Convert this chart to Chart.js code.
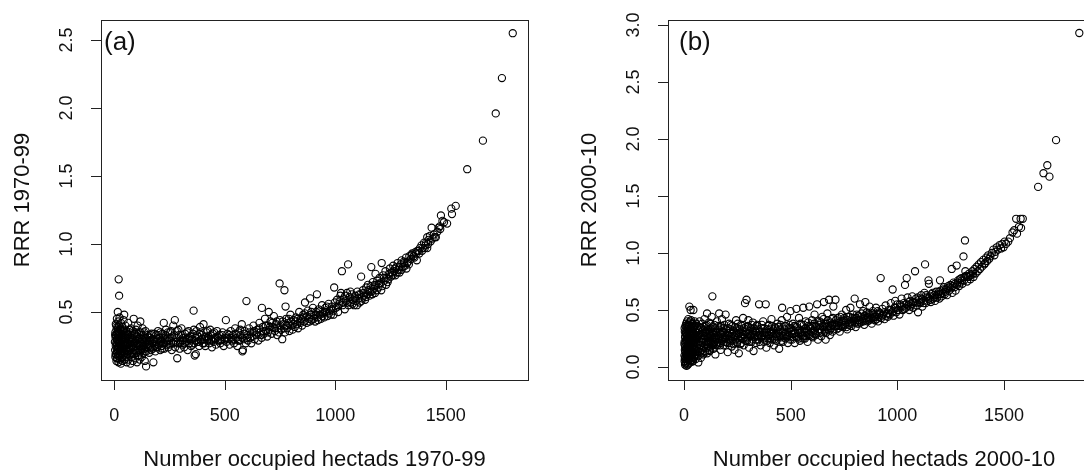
<!DOCTYPE html>
<html>
<head>
<meta charset="utf-8">
<script src="https://cdn.jsdelivr.net/npm/chart.js@4.4.1/dist/chart.umd.min.js"></script>
<style>
    html, body { margin: 0; padding: 0; background: #fff; overflow: hidden; width: 1084px; height: 470px; }
    canvas { position: absolute; top: 0; }
    #chartA { left: 0; }
    #chartB { left: 540px; }
</style>
</head>
<body>
<canvas id="chartA" width="540" height="470"></canvas>
<canvas id="chartB" width="570" height="470"></canvas>
<script>
// panel (a): number of occupied hectads 1970-99 vs RRR 1970-99
var pointsA = [
    [3,0.28],[4,0.22],[5,0.35],[5,0.17],[6,0.31],[7,0.25],[7,0.41],[8,0.19],[8,0.33],[9,0.27],
    [10,0.14],[10,0.37],[11,0.23],[11,0.30],[12,0.45],[12,0.20],[13,0.34],[13,0.26],[14,0.16],[14,0.39],
    [15,0.29],[15,0.22],[16,0.50],[16,0.32],[17,0.18],[17,0.36],[18,0.25],[18,0.43],[19,0.13],[19,0.30],
    [20,0.74],[20,0.21],[21,0.34],[21,0.27],[22,0.62],[22,0.40],[23,0.17],[23,0.31],[24,0.24],[24,0.46],
    [25,0.19],[25,0.35],[26,0.28],[27,0.15],[27,0.38],[28,0.22],[28,0.32],[29,0.26],[30,0.42],[30,0.12],
    [31,0.30],[32,0.20],[32,0.36],[33,0.27],[34,0.16],[34,0.33],[35,0.24],[36,0.39],[37,0.29],[37,0.14],
    [38,0.21],[39,0.35],[40,0.26],[41,0.18],[42,0.31],[42,0.44],[43,0.23],[44,0.37],[45,0.48],[45,0.28],
    [46,0.15],[47,0.33],[48,0.20],[49,0.26],[50,0.40],
    [52,0.30],[53,0.17],[54,0.24],[55,0.36],[56,0.13],[57,0.28],[58,0.21],[60,0.33],[61,0.19],[62,0.26],
    [63,0.42],[64,0.15],[65,0.30],[67,0.23],[68,0.35],[69,0.18],[70,0.27],[72,0.31],[73,0.12],[74,0.22],
    [75,0.38],[77,0.25],[78,0.17],[79,0.33],[80,0.28],[82,0.20],[83,0.36],[84,0.14],[86,0.24],[87,0.30],
    [88,0.45],[89,0.19],[91,0.27],[92,0.34],[93,0.22],[95,0.16],[96,0.29],[98,0.37],[99,0.25],[100,0.20],
    [102,0.32],[103,0.13],[105,0.26],[106,0.40],[108,0.22],[109,0.30],[111,0.18],[112,0.35],[114,0.25],[115,0.15],
    [117,0.28],[118,0.43],[120,0.21],[122,0.33],[123,0.26],[125,0.17],[127,0.30],[128,0.38],[130,0.24],[132,0.20],
    [133,0.29],[135,0.35],[137,0.23],[138,0.14],[140,0.27],[142,0.31],[144,0.10],[145,0.21],[147,0.26],[149,0.33],
    [152,0.24],[155,0.29],[158,0.20],[160,0.31],[163,0.26],[166,0.22],[168,0.34],[171,0.27],[174,0.23],[177,0.13],
    [180,0.30],[183,0.25],[186,0.21],[189,0.33],[192,0.28],[195,0.24],[198,0.36],[201,0.26],[205,0.31],[208,0.22],
    [211,0.29],[215,0.25],[218,0.34],[222,0.27],[224,0.42],[226,0.23],[230,0.30],[234,0.37],[237,0.26],[241,0.31],
    [245,0.24],[248,0.29],[252,0.35],[256,0.27],[260,0.22],[263,0.32],[267,0.40],[270,0.28],[274,0.44],[276,0.24],
    [280,0.31],[283,0.36],[285,0.16],[288,0.27],[292,0.33],[296,0.23],[300,0.29],[304,0.38],[308,0.26],[312,0.31],
    [316,0.24],[320,0.34],[324,0.28],[328,0.30],[332,0.22],[336,0.36],[340,0.27],[344,0.32],[348,0.25],
    [352,0.30],[356,0.34],[359,0.51],[362,0.27],[364,0.18],[366,0.31],[369,0.19],[372,0.36],[376,0.28],[380,0.32],
    [384,0.25],[388,0.39],[392,0.29],[396,0.33],[400,0.27],[404,0.41],[408,0.30],[412,0.25],[416,0.35],[420,0.29],
    [425,0.32],[430,0.27],[434,0.37],[438,0.30],[442,0.24],[446,0.34],[450,0.28],[455,0.31],[460,0.26],[465,0.36],
    [470,0.29],[475,0.33],[480,0.27],[485,0.30],[490,0.35],[495,0.25],[500,0.31],[505,0.44],[508,0.28],[512,0.34],
    [517,0.30],[522,0.26],[527,0.36],[532,0.29],[537,0.33],[542,0.27],[547,0.38],[552,0.31],[557,0.25],[562,0.35],
    [567,0.29],[572,0.33],[577,0.41],[580,0.21],[582,0.22],[586,0.30],[590,0.36],[595,0.27],[598,0.58],[601,0.33],
    [605,0.29],[610,0.38],[615,0.31],[620,0.27],[625,0.35],[630,0.40],[635,0.30],
    [642,0.33],[647,0.37],[652,0.29],[657,0.42],[662,0.35],[667,0.31],[668,0.53],[672,0.39],[677,0.34],[682,0.45],
    [687,0.36],[692,0.32],[697,0.40],[699,0.50],[702,0.37],[707,0.43],[712,0.34],[717,0.39],[722,0.47],[727,0.36],
    [732,0.41],[737,0.33],[742,0.38],[748,0.71],[750,0.44],[755,0.37],[760,0.30],[765,0.41],[770,0.66],[772,0.35],
    [775,0.54],[778,0.45],[782,0.38],[787,0.42],[792,0.36],[797,0.48],[802,0.40],[807,0.37],[812,0.44],[817,0.39],
    [822,0.46],[827,0.41],[832,0.38],[837,0.50],[840,0.43],
    [845,0.45],[850,0.40],[855,0.48],[860,0.43],[863,0.57],[866,0.46],[871,0.42],[876,0.51],[881,0.45],[886,0.60],
    [889,0.48],[894,0.44],[899,0.53],[904,0.47],[909,0.43],[914,0.50],[917,0.63],[920,0.46],[925,0.52],[930,0.48],
    [935,0.45],[940,0.55],[945,0.49],[950,0.46],[955,0.53],[960,0.50],[965,0.47],[970,0.56],[975,0.51],[980,0.48],
    [985,0.54],[990,0.51],[995,0.68],[998,0.57],
    [1003,0.53],[1008,0.59],[1013,0.50],[1018,0.56],[1023,0.62],[1026,0.64],[1030,0.80],[1033,0.55],[1038,0.60],[1043,0.52],
    [1048,0.58],[1053,0.64],[1058,0.85],[1060,0.55],[1065,0.61],[1070,0.57],[1075,0.63],[1080,0.59],[1085,0.55],[1090,0.62],
    [1095,0.58],[1100,0.65],[1105,0.60],[1110,0.57],[1115,0.63],[1117,0.76],[1120,0.60],[1125,0.66],[1130,0.62],[1135,0.59],
    [1140,0.68],[1145,0.63],[1150,0.66],
    [1155,0.62],[1160,0.69],[1163,0.83],[1165,0.65],[1170,0.72],[1175,0.67],[1180,0.64],[1182,0.78],[1185,0.70],[1190,0.73],
    [1195,0.68],[1200,0.75],[1205,0.71],[1210,0.86],[1212,0.69],[1217,0.77],[1222,0.73],[1227,0.80],[1232,0.75],[1237,0.72],
    [1242,0.78],[1247,0.82],[1252,0.76],[1257,0.79],[1262,0.84],[1267,0.80],[1272,0.77],[1277,0.83],[1282,0.86],[1287,0.81],
    [1291,0.79],[1296,0.85],[1300,0.88],[1305,0.83],[1310,0.87],[1315,0.84],[1320,0.90],[1325,0.86],[1330,0.87],[1335,0.91],
    [1342,0.89],[1348,0.93],[1355,0.91],[1362,0.94],[1369,0.88],[1372,0.95],[1377,0.95],[1383,0.97],[1390,0.99],[1396,0.97],
    [1402,1.01],[1408,0.99],[1411,1.01],[1416,1.05],[1416,0.97],[1422,1.03],[1428,1.06],[1436,1.12],[1440,1.04],[1446,1.07],
    [1450,1.05],[1455,1.05],[1462,1.09],[1468,1.12],[1473,1.13],[1475,1.11],[1478,1.21],[1485,1.17],[1492,1.16],[1506,1.15],
    [1525,1.26],[1528,1.22],[1545,1.28],
    [1597,1.55],[1668,1.76],[1726,1.96],[1754,2.22],[1803,2.55]
];

var crowdA = [
    [4,0.33],[6,0.19],[9,0.40],[11,0.16],[13,0.29],[16,0.24],[18,0.35],[20,0.30],[23,0.27],[26,0.21],
    [29,0.37],[31,0.25],[33,0.19],[36,0.30],[39,0.24],[41,0.36],[44,0.21],[47,0.27],[51,0.23],[54,0.32],
    [57,0.19],[59,0.27],[62,0.34],[66,0.21],[69,0.29],[71,0.37],[74,0.28],[76,0.19],[81,0.31],[85,0.26],
    [90,0.34],[94,0.28],[97,0.21],[101,0.27],[104,0.34],[107,0.18],[110,0.26],[113,0.31],[116,0.22],[119,0.35],
    [121,0.27],[124,0.30],[126,0.23],[129,0.33],[131,0.27],[134,0.25],[136,0.31],[139,0.21],[141,0.36],[146,0.29],
    [154,0.32],[157,0.26],[162,0.29],[165,0.33],[169,0.24],[173,0.30],[178,0.27],[182,0.34],[187,0.28],[191,0.24],
    [196,0.30],[200,0.33],[204,0.27],[209,0.35],[213,0.28],[217,0.23],[220,0.31],[228,0.27],[232,0.33],[239,0.29],
    [243,0.35],[250,0.26],[254,0.31],[258,0.36],[265,0.27],[272,0.33],[278,0.28],[286,0.31],[290,0.37],[298,0.27],
    [302,0.33],[310,0.29],[318,0.27],[322,0.31],[330,0.35],[338,0.31],[346,0.29],[354,0.26],[360,0.37],[368,0.29],
    [374,0.33],[382,0.28],[390,0.35],[398,0.30],[406,0.27],[414,0.32],[422,0.36],[428,0.30],[436,0.33],[444,0.29],
    [452,0.35],[458,0.30],[468,0.32],[478,0.29],[488,0.33],[498,0.29],[510,0.31],[520,0.33],[530,0.31],[540,0.30],
    [550,0.34],[560,0.29],[570,0.37],[578,0.31],[588,0.34],[600,0.31],[612,0.35],[622,0.32],[632,0.36],[645,0.35],
    [655,0.38],[665,0.33],[675,0.36],[685,0.40],[695,0.35],[705,0.39],[715,0.42],[725,0.38],[735,0.43],[745,0.35],
    [752,0.40],[762,0.43],[768,0.38],[780,0.40],[790,0.45],[800,0.43],[810,0.41],[820,0.43],[830,0.45],[843,0.42],
    [853,0.46],[862,0.49],[873,0.47],[883,0.43],[892,0.50],[902,0.45],[912,0.48],[922,0.44],[932,0.51],[942,0.47],
    [952,0.50],[962,0.54],[972,0.49],[982,0.52],[992,0.48],
    [1010,0.54],[1020,0.58],[1035,0.57],[1045,0.62],[1055,0.57],[1068,0.65],[1078,0.56],[1088,0.60],[1098,0.55],[1108,0.63],
    [1118,0.58],[1128,0.64],[1138,0.61],[1148,0.70],[1158,0.65],[1168,0.63],[1178,0.70],[1188,0.66],[1198,0.71],[1208,0.66],
    [1220,0.75],[1230,0.70],[1240,0.74],[1250,0.79],[1260,0.77],[1270,0.82],[1280,0.79],[1290,0.83],[1300,0.81],[1312,0.86],
    [1322,0.82],[1333,0.85],[1345,0.92],[1358,0.90],[1366,0.93],[1380,0.93],[1393,0.95],[1405,0.97],[1420,1.00],[1432,1.02]
];

// panel (b): number of occupied hectads 2000-10 vs RRR 2000-10
var pointsB = [
    [2,0.10],[3,0.05],[3,0.22],[4,0.15],[4,0.31],[5,0.02],[5,0.18],[6,0.27],[6,0.09],[7,0.36],
    [7,0.13],[8,0.21],[8,0.04],[9,0.29],[9,0.16],[10,0.38],[10,0.07],[11,0.24],[11,0.12],[12,0.33],
    [12,0.01],[13,0.19],[13,0.27],[14,0.10],[14,0.40],[15,0.15],[15,0.23],[16,0.05],[16,0.31],[17,0.18],
    [17,0.35],[18,0.08],[18,0.26],[19,0.13],[19,0.21],[20,0.42],[20,0.03],[21,0.29],[21,0.16],[22,0.11],
    [22,0.37],[23,0.20],[23,0.06],[24,0.25],[24,0.14],[25,0.33],[25,0.53],[26,0.09],[26,0.22],[27,0.17],
    [27,0.39],[28,0.28],[28,0.04],[29,0.12],[29,0.24],[30,0.19],[30,0.34],[31,0.50],[31,0.08],[32,0.27],
    [32,0.15],[33,0.21],[33,0.41],[34,0.11],[34,0.30],[35,0.17],[35,0.06],[36,0.25],[36,0.36],[37,0.13],
    [37,0.22],[38,0.32],[38,0.09],[39,0.18],[39,0.28],[40,0.38],[40,0.14],[41,0.23],[42,0.05],[42,0.31],
    [43,0.19],[44,0.26],[44,0.50],[45,0.12],[46,0.35],[46,0.21],[47,0.16],[48,0.29],[48,0.09],[49,0.24],
    [50,0.40],[51,0.13],[52,0.27],[53,0.18],[54,0.33],[55,0.07],[56,0.22],[57,0.15],[58,0.30],[59,0.25],
    [61,0.11],[63,0.36],[64,0.20],[66,0.27],[67,0.04],[69,0.16],[70,0.32],[72,0.23],[73,0.40],[75,0.13],
    [76,0.29],[78,0.19],[79,0.08],[81,0.34],[82,0.24],[84,0.15],[85,0.38],[87,0.21],[88,0.28],[90,0.11],
    [91,0.33],[93,0.18],[94,0.25],[96,0.42],[98,0.14],[99,0.30],[101,0.22],[103,0.36],[104,0.17],[106,0.27],
    [108,0.47],[109,0.12],[111,0.32],[113,0.20],[115,0.26],[117,0.39],[118,0.15],[120,0.29],[122,0.23],[124,0.34],
    [126,0.18],[128,0.27],[130,0.44],[133,0.62],[134,0.21],[136,0.31],[138,0.16],[140,0.26],[142,0.37],[145,0.22],
    [147,0.11],[149,0.30],[152,0.25],[154,0.40],[157,0.19],[159,0.33],[162,0.27],[165,0.47],[167,0.21],[170,0.35],
    [172,0.15],[175,0.29],[178,0.42],[180,0.24],[183,0.31],[186,0.19],[189,0.37],[192,0.26],[195,0.46],[198,0.22],
    [202,0.30],[205,0.13],[208,0.25],[211,0.38],[214,0.21],[217,0.33],[220,0.27],[224,0.18],[227,0.36],[230,0.24],
    [234,0.31],[237,0.15],[240,0.28],[244,0.41],[247,0.22],[250,0.34],[254,0.26],[257,0.12],[260,0.30],[264,0.20],
    [267,0.37],[270,0.25],[274,0.32],[277,0.43],[280,0.19],[284,0.28],[286,0.56],[290,0.35],[293,0.59],[295,0.23],
    [298,0.30],[302,0.41],[305,0.17],[309,0.27],[312,0.34],[316,0.22],[319,0.29],[323,0.39],[326,0.14],[330,0.26],
    [334,0.32],[337,0.21],[341,0.36],[344,0.28],[348,0.24],[352,0.55],[355,0.31],
    [359,0.19],[363,0.34],[367,0.27],[371,0.40],[375,0.22],[379,0.30],[383,0.55],[386,0.17],[390,0.33],[394,0.25],
    [398,0.37],[402,0.21],[406,0.29],[410,0.42],[414,0.24],[418,0.32],[422,0.19],[426,0.35],[430,0.27],[434,0.23],
    [438,0.38],[442,0.30],[446,0.16],[450,0.33],[454,0.26],[458,0.41],[460,0.52],[463,0.22],[467,0.31],[471,0.36],
    [475,0.25],[479,0.28],[483,0.44],[487,0.21],[491,0.34],[495,0.27],[499,0.49],[503,0.31],[507,0.24],[511,0.38],
    [515,0.29],[519,0.21],[523,0.35],[527,0.51],[531,0.26],[535,0.32],[539,0.43],[543,0.23],[547,0.30],[551,0.37],
    [555,0.27],[559,0.52],[563,0.33],[567,0.25],[571,0.40],[575,0.30],[579,0.22],[583,0.36],[587,0.53],[591,0.28],[595,0.34],
    [600,0.41],[604,0.26],[608,0.32],[612,0.46],[616,0.29],[620,0.36],[624,0.55],[628,0.24],[632,0.33],[636,0.40],
    [640,0.30],[644,0.27],[648,0.44],[652,0.35],[656,0.57],[660,0.31],[664,0.24],[668,0.38],[672,0.47],[676,0.33],
    [680,0.59],[684,0.28],[688,0.36],[692,0.42],[696,0.31],[700,0.53],[705,0.38],[710,0.59],[715,0.33],[720,0.43],
    [725,0.36],[730,0.31],[735,0.40],[740,0.46],[745,0.35],[750,0.41],[755,0.37],[760,0.50],[765,0.33],[770,0.44],
    [775,0.39],[780,0.52],[785,0.36],[790,0.43],[795,0.40],[800,0.60],[805,0.35],[810,0.46],[815,0.41],[820,0.38],
    [825,0.55],[830,0.44],[835,0.40],[840,0.49],[845,0.37],[850,0.57],[855,0.43],
    [860,0.40],[865,0.47],[870,0.53],[875,0.42],[880,0.38],[885,0.49],[890,0.44],[895,0.41],[900,0.52],[905,0.46],
    [910,0.40],[915,0.48],[922,0.78],[925,0.43],[930,0.51],[935,0.46],[940,0.42],[945,0.54],[950,0.47],[955,0.44],
    [960,0.50],[965,0.46],[970,0.56],[975,0.48],[978,0.68],[982,0.45],[986,0.52],[990,0.58],[995,0.48],[1000,0.55],
    [1005,0.50],[1010,0.46],[1015,0.53],[1020,0.60],
    [1025,0.50],[1030,0.56],[1036,0.72],[1040,0.52],[1044,0.78],[1048,0.61],[1052,0.54],[1056,0.50],[1060,0.58],[1065,0.55],
    [1070,0.62],[1075,0.52],[1080,0.57],[1083,0.84],[1087,0.60],[1092,0.54],[1097,0.48],[1102,0.59],[1107,0.56],[1112,0.63],
    [1117,0.53],[1122,0.58],[1127,0.65],[1130,0.90],[1133,0.56],[1138,0.61],[1143,0.58],[1146,0.76],[1148,0.73],[1152,0.62],
    [1157,0.57],[1162,0.64],[1167,0.60],
    [1172,0.63],[1177,0.58],[1182,0.66],[1187,0.61],[1192,0.64],[1197,0.60],[1200,0.76],[1203,0.67],[1208,0.62],[1213,0.65],
    [1218,0.70],[1223,0.64],[1228,0.68],[1233,0.63],[1238,0.71],[1243,0.67],[1248,0.72],[1253,0.69],[1255,0.86],[1258,0.65],
    [1263,0.74],[1268,0.70],[1273,0.67],[1278,0.89],[1280,0.72],[1285,0.76],[1290,0.71],[1295,0.74],[1300,0.78],[1305,0.73],
    [1310,0.97],[1313,0.76],[1317,1.11],[1319,0.84],[1322,0.80],[1327,0.75],[1332,0.79],[1337,0.82],[1342,0.77],[1347,0.81],
    [1352,0.84],[1357,0.79],[1362,0.86],[1367,0.82],[1372,0.88],[1377,0.84],[1382,0.90],[1387,0.86],[1392,0.92],[1397,0.88],
    [1403,0.94],[1408,0.90],[1411,0.91],[1416,0.96],[1421,0.93],[1426,0.98],[1431,0.95],[1436,0.97],[1443,1.00],[1450,1.03],
    [1455,0.98],[1460,1.01],[1466,1.05],[1472,1.03],[1480,1.07],[1486,1.04],[1492,1.08],[1498,1.05],[1503,1.10],[1510,1.08],
    [1520,1.10],[1528,1.13],[1540,1.18],[1548,1.20],[1557,1.30],[1561,1.17],[1570,1.23],[1578,1.30],[1580,1.22],[1588,1.30],
    [1660,1.58],[1685,1.70],[1703,1.77],[1713,1.67],[1744,1.99],[1853,2.93]
];

var crowdB = [
    [2,0.20],[3,0.34],[4,0.07],[5,0.26],[6,0.14],[7,0.03],[8,0.30],[9,0.11],[10,0.23],[11,0.35],
    [12,0.17],[13,0.08],[14,0.28],[15,0.37],[16,0.13],[17,0.25],[18,0.02],[19,0.33],[20,0.17],[21,0.09],
    [22,0.26],[23,0.36],[24,0.07],[25,0.19],[26,0.30],[27,0.12],[28,0.23],[29,0.40],[30,0.06],[31,0.28],
    [32,0.35],[33,0.10],[34,0.20],[35,0.32],[36,0.14],[37,0.38],[38,0.25],[39,0.05],[40,0.29],[41,0.16],
    [43,0.34],[45,0.24],[47,0.08],[49,0.36],[50,0.17],[52,0.11],[53,0.31],[55,0.25],[57,0.38],[59,0.14],
    [62,0.26],[65,0.33],[68,0.10],[71,0.28],[74,0.19],[77,0.35],[80,0.22],[83,0.12],[86,0.31],[89,0.25],
    [92,0.17],[95,0.35],[97,0.27],[100,0.13],[102,0.31],[105,0.20],[107,0.37],[110,0.25],[112,0.17],[114,0.33],
    [116,0.22],[119,0.30],[121,0.14],[123,0.27],[125,0.38],[127,0.22],[129,0.31],[132,0.19],[135,0.35],[137,0.24],
    [139,0.30],[141,0.20],[143,0.28],[146,0.34],[148,0.24],[150,0.19],[153,0.31],[156,0.27],[158,0.22],[161,0.36],
    [164,0.25],[166,0.31],[169,0.19],[171,0.29],[174,0.36],[177,0.23],[179,0.31],[182,0.26],[185,0.34],[188,0.22],
    [191,0.30],[194,0.25],[197,0.33],
    [200,0.27],[204,0.21],[207,0.34],[210,0.28],[213,0.24],[216,0.30],[219,0.37],[222,0.23],[226,0.29],[229,0.32],
    [232,0.20],[236,0.27],[239,0.35],[242,0.24],[246,0.30],[249,0.21],[252,0.38],[256,0.29],[259,0.24],[262,0.33],
    [266,0.27],[269,0.21],[272,0.36],[276,0.29],[279,0.25],[282,0.34],[288,0.23],[292,0.31],[297,0.26],[300,0.36],
    [304,0.29],[307,0.22],[311,0.32],[314,0.27],[318,0.37],[321,0.24],[325,0.30],[328,0.34],[332,0.28],[336,0.24],
    [339,0.31],[343,0.37],[346,0.27],[350,0.33],[354,0.22],[357,0.28],[361,0.26],[365,0.37],[369,0.30],[373,0.25],
    [377,0.34],[381,0.27],[385,0.31],[389,0.23],[393,0.36],[397,0.28],[401,0.33],[405,0.25],[409,0.31],[413,0.36],
    [417,0.27],[421,0.30],[425,0.24],[429,0.34],[433,0.29],[437,0.26],[441,0.35],[445,0.31],[449,0.27],[453,0.37],
    [457,0.23],[462,0.30],[466,0.27],[470,0.33],[474,0.29],[478,0.36],[482,0.26],[486,0.31],[490,0.28],[494,0.37],
    [498,0.24],[502,0.34],[506,0.29],[510,0.32],[514,0.26],[518,0.36],[522,0.30],[526,0.27],[530,0.35],[534,0.30],
    [538,0.25],[542,0.33],[546,0.38],[550,0.28],[554,0.32],[558,0.25],[562,0.37],[566,0.30],[570,0.34],[574,0.27],
    [578,0.32],[582,0.39],[586,0.29],[590,0.35],[594,0.31],[598,0.27],
    [602,0.36],[606,0.30],[610,0.38],[614,0.33],[618,0.28],[622,0.35],[626,0.40],[630,0.31],[634,0.37],[638,0.33],
    [642,0.39],[646,0.31],[650,0.36],[654,0.42],[658,0.33],[662,0.38],[666,0.30],[670,0.35],[674,0.41],[678,0.36],
    [682,0.32],[686,0.39],[690,0.34],[694,0.37],[698,0.43],[702,0.33],[707,0.36],[712,0.41],[717,0.37],[722,0.34],
    [727,0.39],[732,0.44],[737,0.36],[742,0.40],[747,0.37],[752,0.43],[757,0.39],[762,0.35],[767,0.41],[772,0.37],
    [777,0.44],[782,0.40],[787,0.38],[792,0.46],[797,0.42],[802,0.39],[807,0.43],[812,0.38],[817,0.45],[822,0.41],
    [827,0.39],[832,0.47],[837,0.42],[842,0.40],[847,0.45],[852,0.41],[857,0.48],[862,0.44],[868,0.41],[872,0.46],
    [878,0.43],[883,0.47],[888,0.42],[893,0.46],[898,0.44],[903,0.42],[908,0.49],[913,0.44],[918,0.47],[928,0.45],
    [938,0.48],[948,0.45],[958,0.47],[968,0.50],[980,0.49],[992,0.52],[1002,0.50],[1012,0.55],[1022,0.53],[1032,0.51],
    [1042,0.55],[1054,0.57],[1062,0.53],[1072,0.57],[1085,0.56],[1095,0.61],[1105,0.57],[1115,0.60],[1125,0.56],[1135,0.63],
    [1145,0.60],[1155,0.59],[1165,0.65],[1175,0.61],[1185,0.63],[1195,0.66],[1205,0.64],[1215,0.68],[1225,0.66],[1235,0.69],
    [1245,0.70],[1260,0.71],[1270,0.73],[1283,0.74],[1293,0.77],[1303,0.76],[1315,0.79],[1325,0.80],[1340,0.80],[1355,0.82]
];

// tick values
var xTicks = [0, 500, 1000, 1500];
var yTicksA = [0.5, 1.0, 1.5, 2.0, 2.5];
var yTicksB = [0.0, 0.5, 1.0, 1.5, 2.0, 2.5, 3.0];

var fontFamily = "'Liberation Sans', Arial, Helvetica, sans-serif";

// R style box, ticks and labels drawn from the chart scales
var rAxesPlugin = {
    id: 'rAxes',
    afterDraw: function (chart, args, opts) {
        var ctx = chart.ctx;
        var area = chart.chartArea;
        var xs = chart.scales.x;
        var ys = chart.scales.y;
        ctx.save();
        ctx.strokeStyle = '#222';
        ctx.fillStyle = '#111';
        ctx.lineWidth = 1;

        // box round the plot region
        ctx.strokeRect(Math.round(area.left) + 0.5, Math.round(area.top) + 0.5,
            Math.round(area.right - area.left), Math.round(area.bottom - area.top));

        // x axis ticks
        ctx.beginPath();
        opts.xTicks.forEach(function (v) {
            var px = Math.round(xs.getPixelForValue(v)) + 0.5;
            ctx.moveTo(px, area.bottom);
            ctx.lineTo(px, area.bottom + 10);
        });
        // y axis ticks
        opts.yTicks.forEach(function (v) {
            var py = Math.round(ys.getPixelForValue(v)) + 0.5;
            ctx.moveTo(area.left, py);
            ctx.lineTo(area.left - 10, py);
        });
        ctx.stroke();

        ctx.font = '18px ' + fontFamily;
        ctx.textAlign = 'center';
        ctx.textBaseline = 'middle';
        opts.xTicks.forEach(function (v) {
            ctx.fillText(String(v), xs.getPixelForValue(v), area.bottom + 36);
        });
        opts.yTicks.forEach(function (v) {
            ctx.save();
            ctx.translate(area.left - 34, ys.getPixelForValue(v));
            ctx.rotate(-Math.PI / 2);
            ctx.fillText(v.toFixed(1), 0, 0);
            ctx.restore();
        });

        // axis titles
        ctx.font = '22px ' + fontFamily;
        ctx.fillText(opts.xTitle, (area.left + area.right) / 2, area.bottom + 80);
        ctx.save();
        ctx.translate(area.left - 78, (area.top + area.bottom) / 2);
        ctx.rotate(-Math.PI / 2);
        ctx.fillText(opts.yTitle, 0, 0);
        ctx.restore();

        // panel letter
        ctx.font = '26px ' + fontFamily;
        ctx.textAlign = 'left';
        ctx.fillText(opts.panel, area.left + opts.panelOffset, 43);
        ctx.restore();
    }
};

//function to create one scatter panel
function createPanel(canvasId, points, xMin, xMax, yMin, yMax, padding, axes) {
    var ctx = document.getElementById(canvasId).getContext('2d');
    return new Chart(ctx, {
        type: 'scatter',
        data: {
            datasets: [{
                data: points.map(function (p) { return { x: p[0], y: p[1] }; }),
                pointStyle: 'circle',
                pointRadius: 3.6,
                pointHoverRadius: 3.6,
                borderWidth: 1.1,
                borderColor: '#000',
                backgroundColor: 'rgba(0,0,0,0)'
            }]
        },
        options: {
            responsive: false,
            animation: false,
            devicePixelRatio: 1,
            layout: { padding: padding },
            scales: {
                x: { type: 'linear', min: xMin, max: xMax, display: false },
                y: { type: 'linear', min: yMin, max: yMax, display: false }
            },
            plugins: {
                legend: { display: false },
                tooltip: { enabled: false },
                rAxes: axes
            }
        },
        plugins: [rAxesPlugin]
    });
}

createPanel('chartA', pointsA.concat(crowdA), -60, 1872, 0, 2.647,
    { left: 101, right: 12, top: 20, bottom: 90 },
    { xTicks: xTicks, yTicks: yTicksA, xTitle: 'Number occupied hectads 1970-99',
      yTitle: 'RRR 1970-99', panel: '(a)', panelOffset: 3 });

createPanel('chartB', pointsB.concat(crowdB), -75, 1950, -0.114, 3.044,
    { left: 128, right: 10, top: 20, bottom: 90 },
    { xTicks: xTicks, yTicks: yTicksB, xTitle: 'Number occupied hectads 2000-10',
      yTitle: 'RRR 2000-10', panel: '(b)', panelOffset: 11 });
</script>
</body>
</html>
